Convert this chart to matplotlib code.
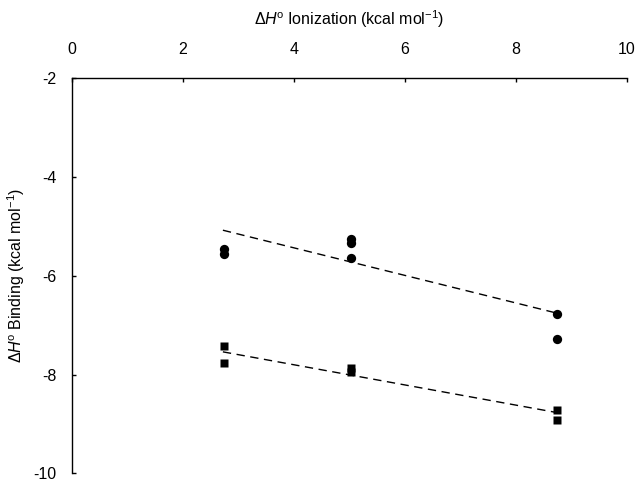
import matplotlib
matplotlib.use("Agg")
import matplotlib.pyplot as plt

plt.rcParams['font.family'] = ['Liberation Sans', 'DejaVu Sans']
plt.rcParams['mathtext.fontset'] = 'custom'
plt.rcParams['mathtext.rm'] = 'Liberation Sans'
plt.rcParams['mathtext.it'] = 'Liberation Sans:italic'
plt.rcParams['axes.unicode_minus'] = False

# circles (upper series)
circle_x = [2.74, 2.74, 5.02, 5.02, 5.02, 8.75, 8.75]
circle_y = [-5.46, -5.57, -5.26, -5.33, -5.64, -6.78, -7.29]
# squares (lower series)
square_x = [2.74, 2.74, 5.02, 5.02, 8.75, 8.75]
square_y = [-7.43, -7.77, -7.87, -7.95, -8.72, -8.91]
# dashed trend lines
fit_x = [2.72, 8.75]
fit_circle_y = [-5.08, -6.76]
fit_square_y = [-7.54, -8.77]

xticks = [0, 2, 4, 6, 8, 10]
yticks = [-2, -4, -6, -8, -10]

fig = plt.figure(figsize=(6.37, 4.83), dpi=100)
ax = fig.add_axes([0.113, 0.0197, 0.871, 0.819])

ax.plot(fit_x, fit_circle_y, color='black', lw=1.0, ls=(0, (6, 4)))
ax.plot(fit_x, fit_square_y, color='black', lw=1.0, ls=(0, (6, 4)))
ax.plot(circle_x, circle_y, 'o', color='black', ms=6.7, mec='none', clip_on=False)
ax.plot(square_x, square_y, 's', color='black', ms=6.3, mec='none', clip_on=False)

ax.set_xlim(0, 10)
ax.set_ylim(-10, -2)
ax.set_xticks(xticks)
ax.set_yticks(yticks)

ax.spines['right'].set_visible(False)
ax.spines['bottom'].set_visible(False)
ax.spines['left'].set_linewidth(1.0)
ax.spines['top'].set_linewidth(1.0)
ax.xaxis.tick_top()
ax.xaxis.set_label_position('top')
ax.tick_params(axis='x', direction='in', length=3, width=1.0, pad=15, labelsize=11.5)
ax.tick_params(axis='y', direction='in', length=3, width=1.0, pad=11, labelsize=11.5)

ax.set_xlabel(r'$\Delta$$\it{H}$$^{\rm o}$ Ionization (kcal mol$^{-1}$)', fontsize=11.5, labelpad=12)
ax.set_ylabel(r'$\Delta$$\it{H}$$^{\rm o}$ Binding (kcal mol$^{-1}$)', fontsize=11.5, labelpad=5)

fig.savefig('out.png', dpi=100)
